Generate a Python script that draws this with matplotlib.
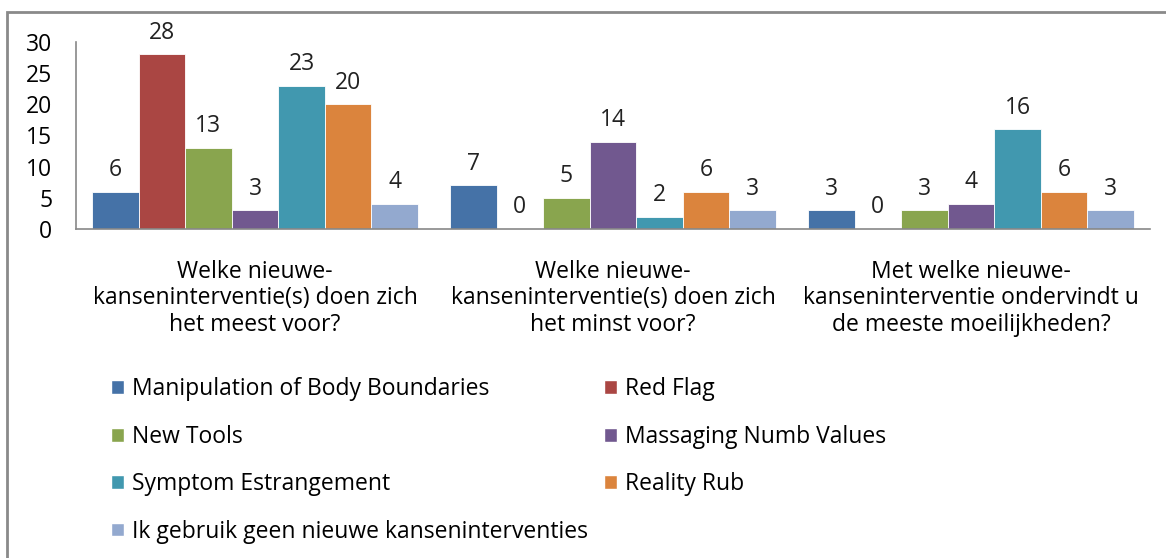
import matplotlib
matplotlib.use("Agg")
import matplotlib.pyplot as plt
from matplotlib.patches import Rectangle, Patch
import numpy as np

plt.rcParams['font.family'] = ['Open Sans', 'DejaVu Sans']

# data
categories = [
    "Welke nieuwe-\nkanseninterventie(s) doen zich\nhet meest voor?",
    "Welke nieuwe-\nkanseninterventie(s) doen zich\nhet minst voor?",
    "Met welke nieuwe-\nkanseninterventie ondervindt u\nde meeste moeilijkheden?",
]
series_names = [
    "Manipulation of Body Boundaries",
    "Red Flag",
    "New Tools",
    "Massaging Numb Values",
    "Symptom Estrangement",
    "Reality Rub",
    "Ik gebruik geen nieuwe kanseninterventies",
]
manipulation = [6, 7, 3]
red_flag = [28, 0, 0]
new_tools = [13, 5, 3]
massaging = [3, 14, 4]
symptom = [23, 2, 16]
reality_rub = [20, 6, 6]
geen = [4, 3, 3]
values = [manipulation, red_flag, new_tools, massaging, symptom, reality_rub, geen]
yticks = [0, 5, 10, 15, 20, 25, 30]

colors = ["#4572A7", "#AA4643", "#89A54E", "#71588F", "#4198AF", "#DB843D", "#93A9CF"]
fs = 16.5

fig = plt.figure(figsize=(11.66, 5.58), dpi=100)
ax = fig.add_axes([76/1166, 1 - 229/558, (1150 - 76)/1166, (229 - 42)/558])

x = np.arange(len(categories))
w = 0.13
n = len(values)
handles = []
for k, (name, vals) in enumerate(zip(series_names, values)):
    pos = x + (k - (n - 1)/2) * w
    bars = ax.bar(pos, vals, width=w, color=colors[k], edgecolor="white", linewidth=0.6, label=name)
    ax.bar_label(bars, padding=7, fontsize=fs, color="#222222")
    handles.append(Patch(facecolor=colors[k], edgecolor="white", label=name))

ax.set_xlim(-0.5, 2.5)
ax.set_ylim(0, 30)
ax.set_yticks(yticks)
ax.set_xticks(x)
ax.set_xticklabels(categories, fontsize=fs, linespacing=1.15)
ax.tick_params(axis="y", length=0, pad=17, labelsize=fs)
ax.tick_params(axis="x", length=0, pad=22)
for s in ["top", "right"]:
    ax.spines[s].set_visible(False)
for s in ["left", "bottom"]:
    ax.spines[s].set_color("#888888")
    ax.spines[s].set_linewidth(1.2)

# legend in row order, 2 columns
order = [0, 2, 4, 6, 1, 3, 5]
fig.legend([handles[i] for i in order], [series_names[i] for i in order],
           ncol=2, loc="upper left", bbox_to_anchor=(100/1166, 1 - 366/558),
           frameon=False, fontsize=fs, handlelength=0.55, handleheight=0.55,
           handletextpad=0.35, labelspacing=1.02, columnspacing=0.7, borderpad=0)

# outer chart border
fig.patches.append(Rectangle((7/1166, -0.1), 1.2, 1 - 12/558 + 0.1, transform=fig.transFigure,
                             fill=False, edgecolor="#8a8a8a", linewidth=2.0))

fig.savefig("out.png", dpi=100)
